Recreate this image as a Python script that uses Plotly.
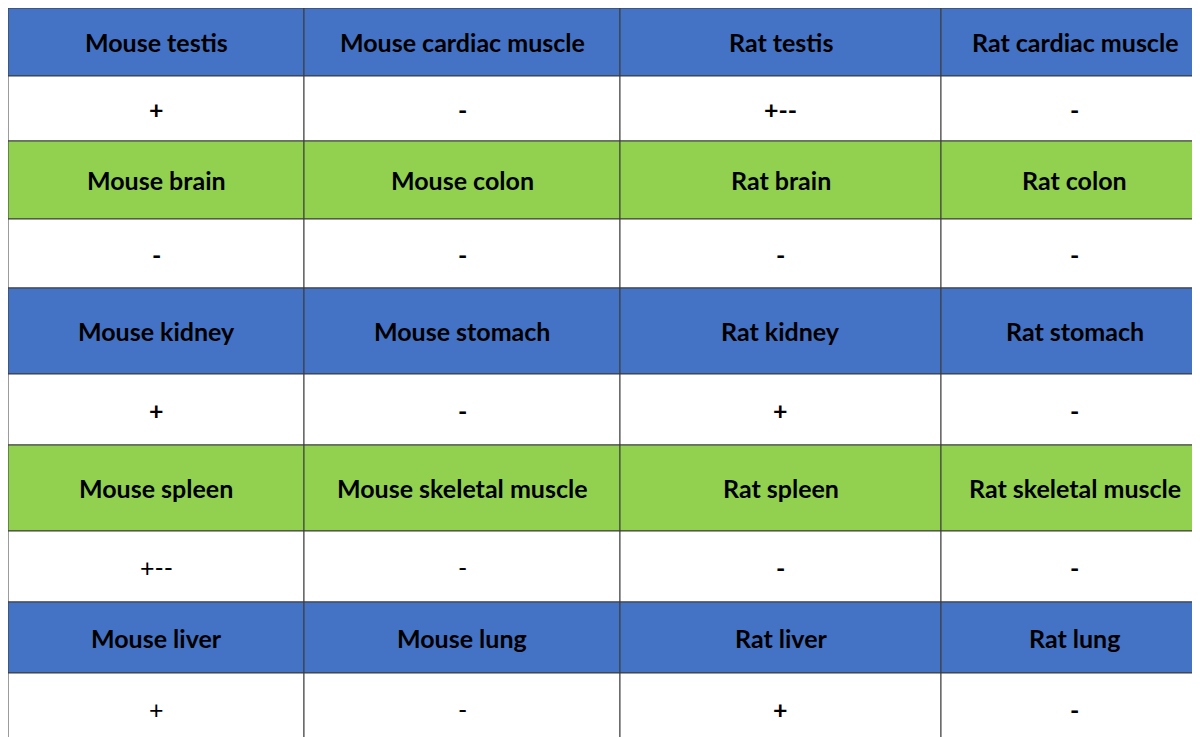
import plotly.graph_objects as go

tissues = [
    ["Mouse testis", "Mouse cardiac muscle", "Rat testis", "Rat cardiac muscle"],
    ["Mouse brain", "Mouse colon", "Rat brain", "Rat colon"],
    ["Mouse kidney", "Mouse stomach", "Rat kidney", "Rat stomach"],
    ["Mouse spleen", "Mouse skeletal muscle", "Rat spleen", "Rat skeletal muscle"],
    ["Mouse liver", "Mouse lung", "Rat liver", "Rat lung"],
]
results = [
    ["+", "-", "+--", "-"],
    ["-", "-", "-", "-"],
    ["+", "-", "+", "-"],
    ["+--", "-", "-", "-"],
    ["+", "-", "+", "-"],
]
# result cells that are not bold in the original
plain = {(3, 0), (3, 1), (4, 0), (4, 1)}
band_colors = ["#4472C4", "#92D050", "#4472C4", "#92D050", "#4472C4"]

# layout grid (pixel-like units)
col_edges = [0, 296, 612, 933, 1200]
row_edges = [0, 68, 133, 211, 280, 366, 437, 523, 594, 665, 737]

rows, fills, bold = [], [], []
for i in range(len(tissues)):
    rows.append(tissues[i]); fills.append(band_colors[i]); bold.append([True] * 4)
    rows.append(results[i]); fills.append("white")
    bold.append([(i, j) not in plain for j in range(4)])

fig = go.Figure()
shapes, annotations = [], []
for r, row in enumerate(rows):
    y0, y1 = row_edges[r], row_edges[r + 1]
    for c, txt in enumerate(row):
        x0, x1 = col_edges[c], col_edges[c + 1]
        shapes.append(dict(type="rect", x0=x0, x1=x1, y0=y0, y1=y1, xref="x", yref="y",
                           fillcolor=fills[r], line=dict(color="#3a3a3a", width=1), layer="below"))
        annotations.append(dict(x=(x0 + x1) / 2, y=(y0 + y1) / 2, xref="x", yref="y",
                                text=f"<b>{txt}</b>" if bold[r][c] else txt, showarrow=False,
                                font=dict(family="Lato, Open Sans, sans-serif", size=25, color="black")))

fig.add_trace(go.Scatter(x=[0, 1200], y=[0, 737], mode="markers", marker_opacity=0,
                         hoverinfo="skip", showlegend=False))
fig.update_xaxes(range=[0, 1200], visible=False)
fig.update_yaxes(range=[737, 0], visible=False)
fig.update_layout(width=1200, height=737, margin=dict(l=0, r=0, t=0, b=0),
                  paper_bgcolor="white", plot_bgcolor="white",
                  shapes=shapes, annotations=annotations)
fig.write_html("out.html")
